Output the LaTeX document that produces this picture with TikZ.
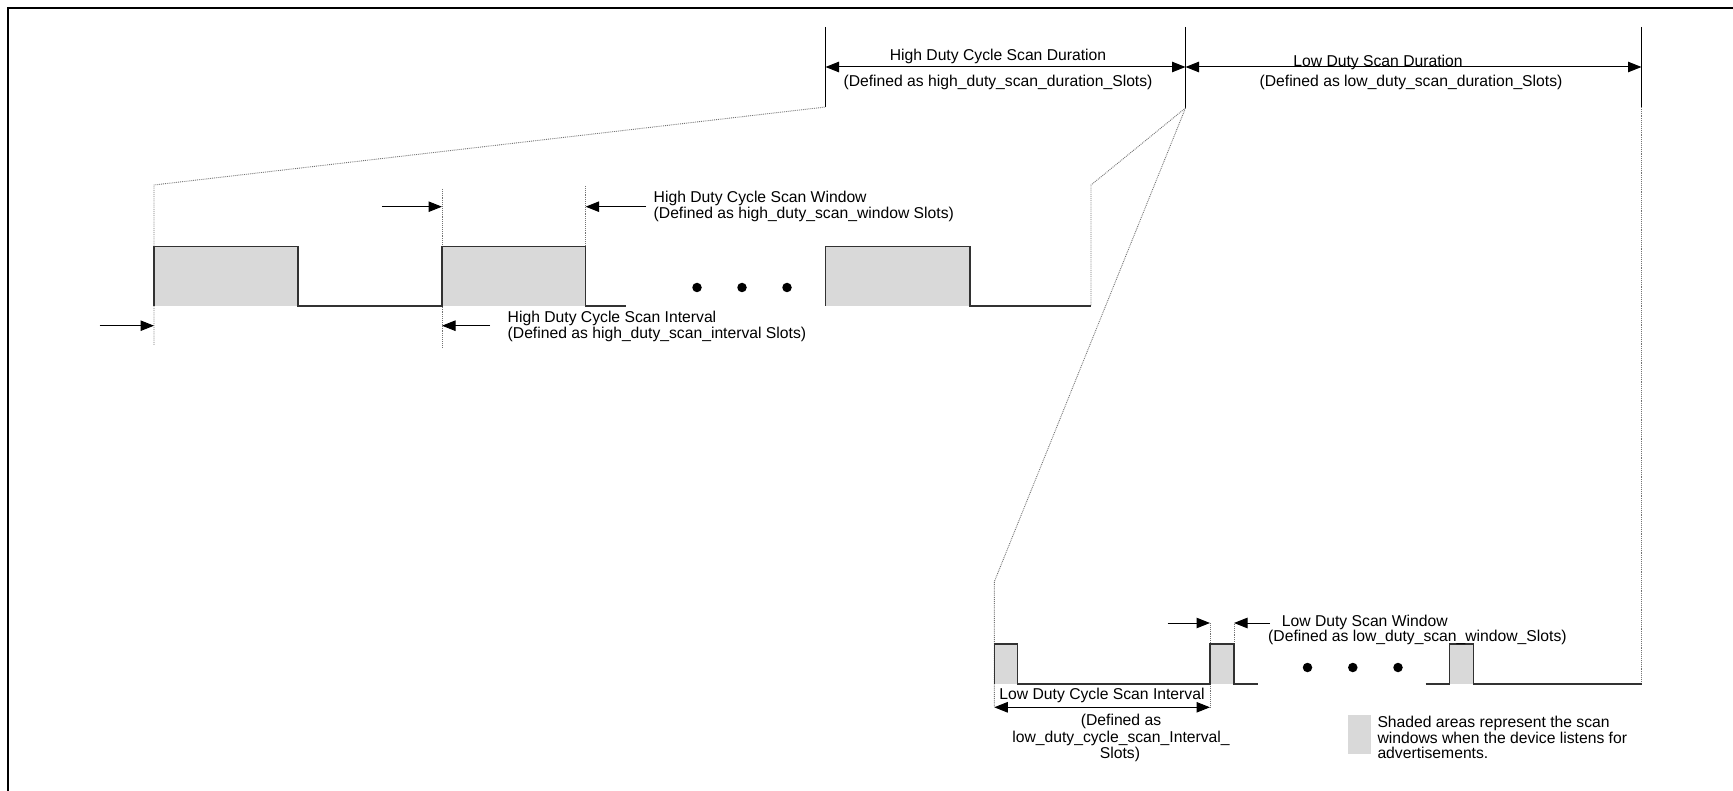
\documentclass[tikz,border=0pt]{standalone}
\usepackage{fontspec}
\setmainfont{Liberation Sans}
\usetikzlibrary{arrows.meta}
\definecolor{shade}{RGB}{217,217,217}
\definecolor{waveclr}{RGB}{50,50,50}
\begin{document}
\begin{tikzpicture}[x=1pt,y=-1pt,
  wave/.style={draw=waveclr, line width=1.4pt, line join=miter},
  win/.style={fill=shade, draw=none},
  guide/.style={draw=black!55, densely dotted, line width=0.9pt},
  dim/.style={draw=black, line width=1pt},
  tipr/.style={-{Triangle[length=13.5pt,width=10.5pt]}},
  tipsb/.style={{Triangle[length=13.5pt,width=10.5pt]}-{Triangle[length=13.5pt,width=10.5pt]}},
  lbl/.style={inner sep=0pt, text height=14.5pt, text depth=3.3pt, font=\fontsize{15.7}{16.6}\selectfont},
  bigdot/.style={circle, fill=black, draw=none, inner sep=0pt, minimum size=9.5pt},
]
\useasboundingbox (0,0) rectangle (1733,791);
% frame
\draw[line width=2.2pt] (8,791) -- (8,8) -- (1733,8);

% ---------- top dimension lines ----------
\coordinate (V1t) at (825.5,27);   \coordinate (V1b) at (825.5,107);
\coordinate (V2t) at (1185.5,27);  \coordinate (V2b) at (1185.5,108);
\coordinate (V3t) at (1641.5,27);  \coordinate (V3b) at (1641.5,107);
\coordinate (A1l) at (825.5,67);   \coordinate (A1r) at (1185.5,67);
\coordinate (A2r) at (1641.5,67);
\draw[dim] (V1t) -- (V1b);
\draw[dim] (V2t) -- (V2b);
\draw[dim] (V3t) -- (V3b);
\draw[dim,tipsb] (A1l) -- (A1r);
\draw[dim,tipsb] (A1r) -- (A2r);
\node[lbl] (hdur) at (998,55) {High Duty Cycle Scan Duration};
\node[lbl] (hdurd) at (998,81) {(Defined as high\_duty\_scan\_duration\_Slots)};
\node[lbl] (ldur) at (1378,61) {Low Duty Scan Duration};
\node[lbl] (ldurd) at (1411,81) {(Defined as low\_duty\_scan\_duration\_Slots)};

% ---------- guide (dotted) lines ----------
\coordinate (G1t) at (154,185);   \coordinate (G1b) at (154,345);
\coordinate (G2t) at (442,189);   \coordinate (G2b) at (442,347);
\coordinate (G3t) at (585.7,186); \coordinate (G3b) at (585.7,246.7);
\coordinate (G4t) at (1091,185);  \coordinate (G4b) at (1091,306);
\coordinate (G5t) at (994.3,581.7); \coordinate (G5b) at (994.3,707.3);
\coordinate (G6t) at (1210,623);  \coordinate (G6b) at (1210,707.3);
\coordinate (G7t) at (1234,624);  \coordinate (G7b) at (1234,644);
\coordinate (G8b) at (1641.5,684);
\draw[guide] (G1b) -- (G1t) -- (V1b);
\draw[guide] (G2t) -- (G2b);
\draw[guide] (G3t) -- (G3b);
\draw[guide] (V2b) -- (G4t) -- (G4b);
\draw[guide] (V2b) -- (G5t) -- (G5b);
\draw[guide] (G6t) -- (G6b);
\draw[guide] (G7t) -- (G7b);
\draw[guide] (V3b) -- (G8b);

% ---------- high duty waveform ----------
\fill[win] (154,246.7) rectangle (298,306);
\fill[win] (442,246.7) rectangle (585.7,306);
\fill[win] (825.5,246.7) rectangle (970,306);
\draw[wave] (154,306) -- (154,246.7) -- (298,246.7) -- (298,306) -- (442,306)
  -- (442,246.7) -- (585.7,246.7) -- (585.7,306) -- (626,306);
\draw[wave] (825.5,306) -- (825.5,246.7) -- (970,246.7) -- (970,306) -- (1091,306);
\node[bigdot] (hd1) at (697,287.5) {};
\node[bigdot] (hd2) at (742,287.5) {};
\node[bigdot] (hd3) at (787,287.5) {};

% high duty window label
\coordinate (hwa) at (381.8,206.7); \coordinate (hwat) at (442,206.7);
\coordinate (hwb) at (646,206.7);   \coordinate (hwbt) at (585.7,206.7);
\draw[dim,tipr] (hwa) -- (hwat);
\draw[dim,tipr] (hwb) -- (hwbt);
\node[lbl,anchor=west] (hwin) at (653.5,197.3) {High Duty Cycle Scan Window};
\node[lbl,anchor=west] (hwind) at (653.5,212.5) {(Defined as high\_duty\_scan\_window Slots)};

% high duty interval label
\coordinate (hia) at (99.6,325.7);  \coordinate (hiat) at (154,325.7);
\coordinate (hib) at (490,325.7);   \coordinate (hibt) at (442,325.7);
\draw[dim,tipr] (hia) -- (hiat);
\draw[dim,tipr] (hib) -- (hibt);
\node[lbl,anchor=west] (hint) at (507.5,316.7) {High Duty Cycle Scan Interval};
\node[lbl,anchor=west] (hintd) at (507.5,333.3) {(Defined as high\_duty\_scan\_interval Slots)};

% ---------- low duty waveform ----------
\fill[win] (994.3,644) rectangle (1017.7,684);
\fill[win] (1210,644) rectangle (1234,684);
\fill[win] (1449.7,644) rectangle (1473.7,684);
\draw[wave] (994.3,684) -- (994.3,644) -- (1017.7,644) -- (1017.7,684) -- (1210,684)
  -- (1210,644) -- (1234,644) -- (1234,684) -- (1257.7,684);
\draw[wave] (1425.7,684) -- (1449.7,684) -- (1449.7,644) -- (1473.7,644) -- (1473.7,684) -- (G8b);
\node[bigdot] (ld1) at (1307.5,667.5) {};
\node[bigdot] (ld2) at (1352.8,667.5) {};
\node[bigdot] (ld3) at (1398,667.5) {};

% low duty window label
\coordinate (lwa) at (1167.7,623); \coordinate (lwb) at (1270,623);
\coordinate (lwbt) at (1234,623);
\draw[dim,tipr] (lwa) -- (G6t);
\draw[dim,tipr] (lwb) -- (lwbt);
\node[lbl,anchor=west] (lwin) at (1281.7,620.7) {Low Duty Scan Window};
\node[lbl,anchor=west] (lwind) at (1268,635.5) {(Defined as low\_duty\_scan\_window\_Slots)};

% low duty interval label
\node[lbl] (lint) at (1102,694) {Low Duty Cycle Scan Interval};
\draw[dim,tipsb] (G5b) -- (G6b);
\node[lbl] (lintd1) at (1121,720.3) {(Defined as};
\node[lbl] (lintd2) at (1121,737) {low\_duty\_cycle\_scan\_Interval\_};
\node[lbl] (lintd3) at (1120,753.3) {Slots)};

% ---------- legend ----------
\fill[win] (1348.3,715) rectangle (1371,754);
\node[lbl,anchor=west] (leg1) at (1377.3,721.7) {Shaded areas represent the scan};
\node[lbl,anchor=west] (leg2) at (1377.3,737.7) {windows when the device listens for};
\node[lbl,anchor=west] (leg3) at (1377.3,753.3) {advertisements.};
\end{tikzpicture}
\end{document}
